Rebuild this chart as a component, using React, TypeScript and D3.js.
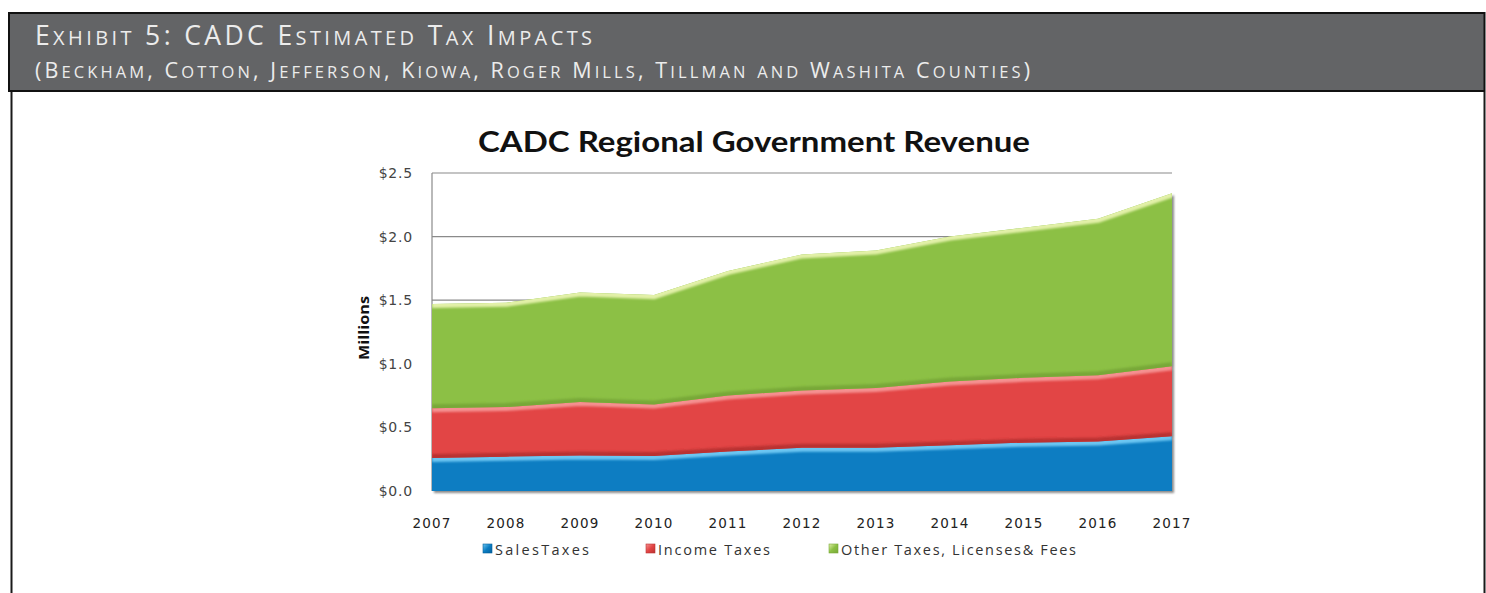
import React from "react";
import * as d3 from "d3";

const years = [2007, 2008, 2009, 2010, 2011, 2012, 2013, 2014, 2015, 2016, 2017];
const salesTaxes = [0.26, 0.27, 0.28, 0.275, 0.31, 0.34, 0.34, 0.36, 0.38, 0.39, 0.43];
const incomeTaxes = [0.39, 0.39, 0.42, 0.405, 0.44, 0.45, 0.47, 0.5, 0.51, 0.52, 0.55];
const otherTaxes = [0.82, 0.82, 0.86, 0.86, 0.98, 1.07, 1.08, 1.14, 1.18, 1.23, 1.36];
const seriesNames = ["Sales Taxes", "Income Taxes", "Other Taxes, Licenses & Fees"];
const legendLabels = ["SalesTaxes", "Income Taxes", "Other Taxes, Licenses& Fees"];
const yTicks = [0, 0.5, 1.0, 1.5, 2.0, 2.5];

const headerLine1 = "Exhibit 5: CADC Estimated Tax Impacts";
const headerLine2 = "(Beckham, Cotton, Jefferson, Kiowa, Roger Mills, Tillman and Washita Counties)";
const chartTitle = "CADC Regional Government Revenue";

const palette = [
  { base: "#0b7dc2", top: "#6cc6f2", bottom: "#05609c" },
  { base: "#e24444", top: "#f59090", bottom: "#b93232" },
  { base: "#8cc044", top: "#e2f0a8", bottom: "#78a838" },
];

function smallCaps(text: string, big: number, small: number) {
  const runs: { s: string; size: number }[] = [];
  for (const ch of text) {
    const isLower = ch !== ch.toUpperCase();
    const size = isLower ? small : big;
    const c = ch.toUpperCase();
    if (runs.length && runs[runs.length - 1].size === size) runs[runs.length - 1].s += c;
    else runs.push({ s: c, size });
  }
  return runs.map((r, i) => (
    <tspan key={i} fontSize={r.size}>
      {r.s}
    </tspan>
  ));
}

export default function App() {
  const W = 1486;
  const H = 593;
  const left = 432;
  const right = 1172;
  const top = 173;
  const bottom = 491;

  const x = d3.scaleLinear().domain([years[0], years[years.length - 1]]).range([left, right]);
  const y = d3.scaleLinear().domain([0, 2.5]).range([bottom, top]);

  const rows = years.map((yr, i) => ({
    year: yr,
    s0: salesTaxes[i],
    s1: incomeTaxes[i],
    s2: otherTaxes[i],
  }));
  const stack = d3.stack<any>().keys(["s0", "s1", "s2"]);
  const layers = stack(rows);

  const area = d3
    .area<any>()
    .x((d) => x(d.data.year))
    .y0((d) => y(d[0]))
    .y1((d) => y(d[1]));
  const topLine = d3
    .line<any>()
    .x((d) => x(d.data.year))
    .y((d) => y(d[1]));
  const botLine = d3
    .line<any>()
    .x((d) => x(d.data.year))
    .y((d) => y(d[0]));

  const fmt = d3.format("$.1f");

  const legendX = [483, 646, 829];
  const legendW = [94, 112, 235];

  return (
    <svg
      width={W}
      height={H}
      style={{ position: "absolute", left: 0, top: 0, background: "#fff" }}
      xmlns="http://www.w3.org/2000/svg"
    >
      <defs>
        <filter id="blur2" x="-5%" y="-50%" width="110%" height="200%">
          <feGaussianBlur stdDeviation="1.3" />
        </filter>
        <filter id="shadow" x="-5%" y="-5%" width="110%" height="115%">
          <feDropShadow dx="2" dy="2" stdDeviation="1.2" floodColor="#000" floodOpacity="0.45" />
        </filter>
        {layers.map((l, i) => (
          <clipPath id={`clip${i}`} key={i}>
            <path d={area(l as any) || ""} />
          </clipPath>
        ))}
        {palette.map((p, i) => (
          <linearGradient id={`lg${i}`} key={i} x1="0" y1="0" x2="1" y2="1">
            <stop offset="0" stopColor={p.top} />
            <stop offset="0.5" stopColor={p.base} />
            <stop offset="1" stopColor={p.bottom} />
          </linearGradient>
        ))}
      </defs>

      {/* Header */}
      <rect x={9} y={13} width={1475.5} height={78} fill="#636466" stroke="#111" strokeWidth={2} />
      <line x1={11.5} y1={92} x2={11.5} y2={H} stroke="#1a1a1a" strokeWidth={2} />
      <line x1={1484.5} y1={92} x2={1484.5} y2={H} stroke="#1a1a1a" strokeWidth={2} />
      <text
        x={35}
        y={45}
        fill="#ececec"
        fontFamily="'Open Sans', Lato, sans-serif"
        textLength={557}
        lengthAdjust="spacing"
      >
        {smallCaps(headerLine1, 26.5, 20)}
      </text>
      <text
        x={35}
        y={78}
        fill="#ececec"
        fontFamily="'Open Sans', Lato, sans-serif"
        textLength={995}
        lengthAdjust="spacing"
      >
        {smallCaps(headerLine2, 21.5, 16.5)}
      </text>

      {/* Chart title */}
      <text
        x={754}
        y={152}
        textAnchor="middle"
        fontFamily="Lato, 'Open Sans', sans-serif"
        fontWeight={700}
        fontSize={29}
        fill="#111"
        textLength={552}
        lengthAdjust="spacingAndGlyphs"
      >
        {chartTitle}
      </text>

      {/* Gridlines */}
      {yTicks
        .filter((t) => t > 0)
        .map((t) => (
          <line key={t} x1={left} x2={right} y1={y(t)} y2={y(t)} stroke="#8a8a8a" strokeWidth={1.2} />
        ))}
      <line x1={left} x2={left} y1={top} y2={bottom} stroke="#8a8a8a" strokeWidth={1.2} />

      {/* Areas */}
      <g filter="url(#shadow)">
        {layers.map((l, i) => (
          <path key={`a${i}`} d={area(l as any) || ""} fill={palette[i].base} />
        ))}
      </g>
      {layers.map((l, i) => (
        <g key={`b${i}`} clipPath={`url(#clip${i})`}>
          <path d={botLine(l as any) || ""} fill="none" stroke={palette[i].bottom} strokeWidth={8} filter="url(#blur2)" />
          <path d={topLine(l as any) || ""} fill="none" stroke={palette[i].top} strokeWidth={8} filter="url(#blur2)" />
          <line x1={right} x2={right} y1={top} y2={bottom} stroke={palette[i].bottom} strokeWidth={6} filter="url(#blur2)" />
        </g>
      ))}

      {/* Y axis labels */}
      {yTicks.map((t) => (
        <text
          key={t}
          x={413}
          y={y(t) + 5}
          textAnchor="end"
          fontFamily="'DejaVu Sans', sans-serif"
          fontSize={14}
          letterSpacing={0.8}
          fill="#444"
        >
          {fmt(t)}
        </text>
      ))}
      <text
        transform={`translate(369,${328}) rotate(-90)`}
        textAnchor="middle"
        fontFamily="'Open Sans', sans-serif"
        fontWeight={700}
        fontSize={14.5}
        fill="#111"
        textLength={64}
        lengthAdjust="spacingAndGlyphs"
      >
        Millions
      </text>

      {/* X axis labels */}
      {years.map((yr) => (
        <text
          key={yr}
          x={x(yr)}
          y={528}
          textAnchor="middle"
          fontFamily="'DejaVu Sans', sans-serif"
          fontSize={13.5}
          letterSpacing={1.2}
          fill="#222"
        >
          {yr}
        </text>
      ))}

      {/* Legend */}
      {seriesNames.map((name, i) => (
        <g key={name}>
          <rect x={legendX[i]} y={544} width={9} height={9} fill={`url(#lg${i})`} stroke={palette[i].bottom} strokeWidth={0.6} />
          <text
            x={legendX[i] + 12}
            y={555}
            fontFamily="'Open Sans', sans-serif"
            fontSize={14.5}
            fill="#333"
            textLength={legendW[i]}
            lengthAdjust="spacing"
          >
            {legendLabels[i]}
          </text>
        </g>
      ))}
    </svg>
  );
}
